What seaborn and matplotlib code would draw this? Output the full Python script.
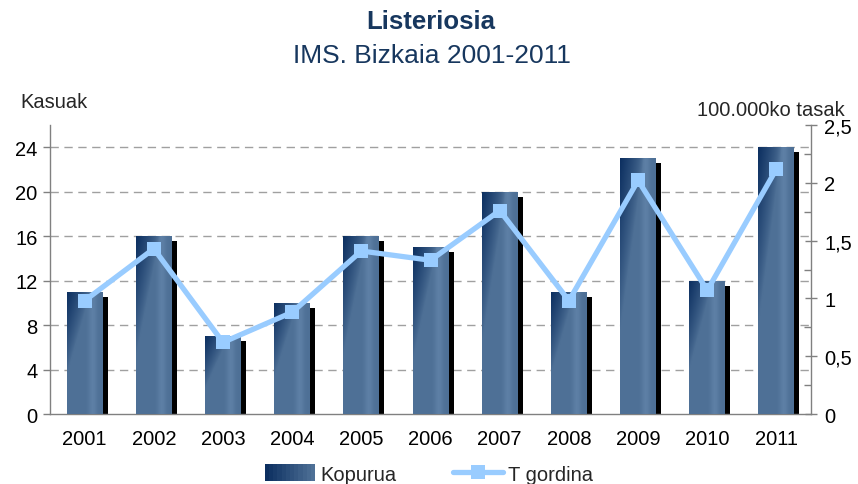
import numpy as np
import matplotlib
matplotlib.use("Agg")
import matplotlib.pyplot as plt
import matplotlib.transforms as mtransforms
from matplotlib.lines import Line2D
from matplotlib.patches import Patch
from matplotlib.legend_handler import HandlerTuple
from matplotlib.ticker import FixedLocator, FuncFormatter
import seaborn as sns

# Data
years = ["2001", "2002", "2003", "2004", "2005", "2006", "2007", "2008", "2009", "2010", "2011"]
cases = [11, 16, 7, 10, 16, 15, 20, 11, 23, 12, 24]
rates = [0.98, 1.43, 0.62, 0.88, 1.41, 1.33, 1.76, 0.98, 2.02, 1.07, 2.12]
left_ticks = [0, 4, 8, 12, 16, 20, 24]
right_ticks = [0, 0.5, 1, 1.5, 2, 2.5]

sns.set_style("white")
plt.rcParams["font.family"] = ["Liberation Sans", "DejaVu Sans"]

NAVY = "#17375e"
BAR_DARK = np.array([0x0c, 0x2f, 0x60]) / 255
BAR_LIGHT = np.array([0x4e, 0x70, 0x96]) / 255
LINE = "#99ccff"
AXIS = "#808080"
FS = 14.5

fig = plt.figure(figsize=(8.58, 4.85), dpi=100)
ax = fig.add_axes([0.0583, 0.1443, 0.8870, 0.5959])

# Drop-shadow bars, shifted 5 px right and 5 px down
sns.barplot(x=years, y=cases, ax=ax, color="black", width=0.52,
            saturation=1, errorbar=None, zorder=2)
shadow = list(ax.patches)
offset = mtransforms.ScaledTranslation(5 / 100, -5 / 100, fig.dpi_scale_trans)
for p in shadow:
    p.set_transform(ax.transData + offset)
    p.set_linewidth(0)

# Main bars
sns.barplot(x=years, y=cases, ax=ax, color="#4e7096", width=0.52,
            saturation=1, errorbar=None, zorder=3)
bars = ax.patches[len(shadow):]

# Diagonal gradient fill for each bar (dark top-left -> steel blue)
nu, nv = 60, 200
u = np.linspace(0, 1, nu)[None, :]
v = np.linspace(0, 1, nv)[:, None]
for p in bars:
    p.set_linewidth(0)
    x0, y0 = p.get_x(), p.get_y()
    w, h = p.get_width(), p.get_height()
    d = np.clip(1 - 1.5 * u - 1.5 * v, 0, 1) ** 0.8
    band = 0.06 * np.exp(-((u - 0.72) / 0.12) ** 2)
    img = BAR_LIGHT[None, None, :] * (1 - d[..., None]) + BAR_DARK[None, None, :] * d[..., None]
    img = np.clip(img + band[..., None] * (1 - d[..., None]), 0, 1)
    im = ax.imshow(img, extent=[x0, x0 + w, y0, y0 + h], aspect="auto",
                   origin="upper", zorder=3.5, interpolation="bilinear")
    im.set_clip_path(p)

ax.set_xlim(-0.5, len(years) - 0.5)
ax.set_ylim(0, 26)
ax.set_xlabel("")
ax.set_ylabel("")

# Dashed grid
ax.yaxis.set_major_locator(FixedLocator(left_ticks))
for t in left_ticks[1:]:
    ax.axhline(t, color="#a0a0a0", lw=1, ls=(0, (6, 4)), zorder=1)

ax.set_xticks(range(len(years)))
ax.set_xticklabels(years)
ax.xaxis.set_minor_locator(FixedLocator(np.arange(-0.5, len(years), 1)))
ax.tick_params(axis="x", which="major", length=0, pad=11, labelsize=FS, colors="black")
ax.tick_params(axis="x", which="minor", length=5, width=1, color=AXIS, direction="out")
ax.tick_params(axis="y", which="major", length=5, width=1, color=AXIS, direction="out",
               labelsize=FS, labelcolor="black", pad=4)

for s in ["left", "bottom"]:
    ax.spines[s].set_color(AXIS)
    ax.spines[s].set_linewidth(1)
ax.spines["top"].set_visible(False)
ax.spines["right"].set_visible(False)

# Rate line on the secondary axis
ax2 = ax.twinx()
sns.pointplot(x=years, y=rates, ax=ax2, color=LINE, markers="s", linestyles="-",
              errorbar=None, markersize=9.5, linewidth=3.8, markeredgewidth=0)
ax2.set_ylim(0, 2.5)
ax2.set_xlim(-0.5, len(years) - 0.5)
ax2.set_ylabel("")
ax2.yaxis.set_major_locator(FixedLocator(right_ticks))
ax2.yaxis.set_minor_locator(FixedLocator(np.arange(0.25, 2.5, 0.5)))
ax2.yaxis.set_major_formatter(FuncFormatter(lambda val, pos: f"{val:g}".replace(".", ",")))
ax2.tick_params(axis="y", which="major", length=9, width=1, color=AXIS, direction="inout",
                labelsize=FS, labelcolor="black", pad=5)
ax2.tick_params(axis="y", which="minor", length=5, width=1, color=AXIS, direction="in")
for s in ["top", "left", "bottom"]:
    ax2.spines[s].set_visible(False)
ax2.spines["right"].set_color(AXIS)
ax2.spines["right"].set_linewidth(1)
ax2.grid(False)

# Titles and axis captions
fig.text(0.502, 1 - 22 / 485, "Listeriosia", ha="center", va="center",
         fontsize=18.5, fontweight="bold", color=NAVY)
fig.text(0.504, 1 - 56 / 485, "IMS. Bizkaia 2001-2011", ha="center", va="center",
         fontsize=19, color=NAVY)
fig.text(20 / 858, 1 - 103 / 485, "Kasuak", ha="left", va="center", fontsize=FS)
fig.text(697 / 858, 1 - 110 / 485, "100.000ko tasak", ha="left", va="center", fontsize=FS)

# Legend: stepped gradient swatch for the bars, line+marker for the rate
steps = np.linspace(0, 1, 12)
swatch = tuple(Patch(facecolor=BAR_DARK * (1 - s) + BAR_LIGHT * s, edgecolor="none",
                     linewidth=0) for s in steps)
rate_handle = Line2D([], [], color=LINE, lw=3.8, marker="s", markersize=9.5,
                     markeredgewidth=0)
fig.legend(handles=[swatch, rate_handle], labels=["Kopurua", "T gordina"],
           handler_map={tuple: HandlerTuple(ndivide=None, pad=0)},
           loc="center", bbox_to_anchor=(0.5, 1 - 475 / 485), ncol=2,
           frameon=False, fontsize=FS, handlelength=2.5, handleheight=0.85,
           handletextpad=0.25, columnspacing=2.8)

fig.savefig("out.png", dpi=100)
